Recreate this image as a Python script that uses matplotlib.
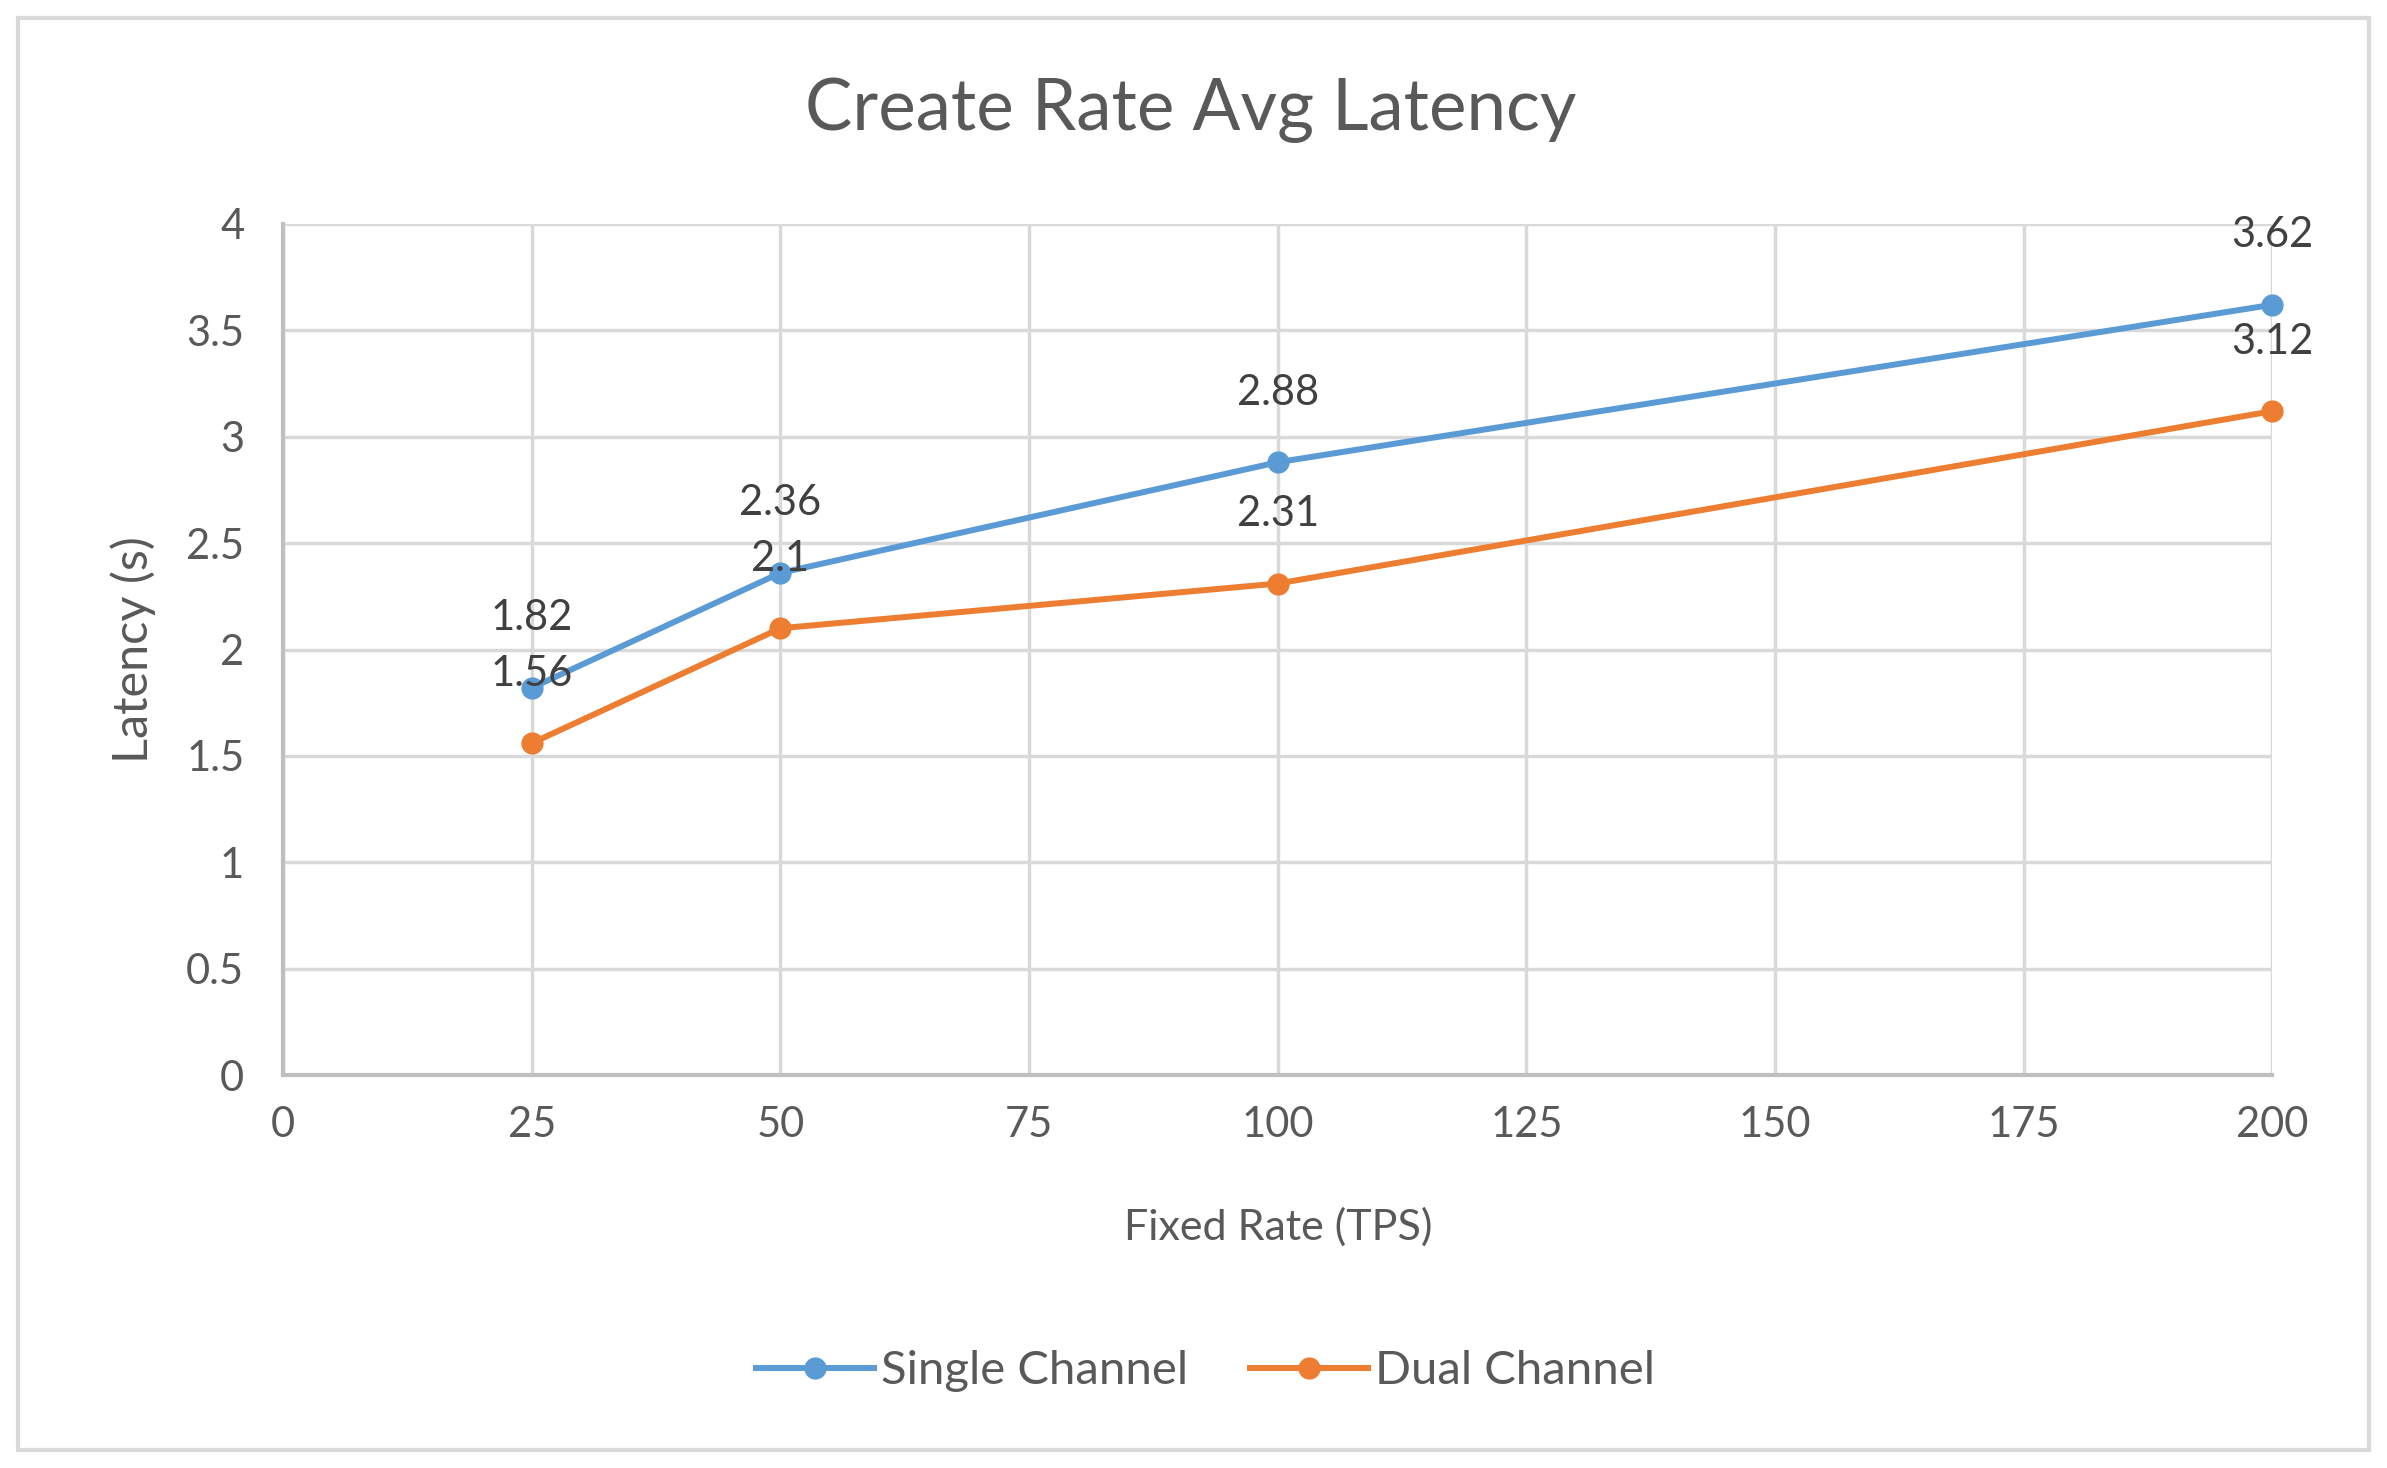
import matplotlib.pyplot as plt
from matplotlib.patches import Rectangle

# data
rates = [25, 50, 100, 200]
single_channel = [1.82, 2.36, 2.88, 3.62]
dual_channel = [1.56, 2.1, 2.31, 3.12]
x_ticks = [0, 25, 50, 75, 100, 125, 150, 175, 200]
y_ticks = [0, 0.5, 1, 1.5, 2, 2.5, 3, 3.5, 4]

plt.rcParams['font.family'] = ['Lato', 'DejaVu Sans']
text_color = '#595959'

fig = plt.figure(figsize=(23.87, 14.68), dpi=100)
ax = fig.add_axes([0.1186, 0.2676, 0.952 - 0.1186, 0.8475 - 0.2676])

# chart border
fig.patches.append(Rectangle((0.0077, 0.012), 0.9846, 0.976, transform=fig.transFigure,
                             fill=False, edgecolor='#d9d9d9', linewidth=3))

ax.plot(rates, single_channel, color='#5b9bd5', linewidth=4.3, marker='o', markersize=15,
        label='Single Channel', zorder=3, clip_on=False)
ax.plot(rates, dual_channel, color='#ed7d31', linewidth=4.3, marker='o', markersize=15,
        label='Dual Channel', zorder=3, clip_on=False)

for x, y in zip(rates, single_channel):
    ax.annotate(f'{y:g}', (x, y), xytext=(0, 50), textcoords='offset points',
                ha='center', va='center', fontsize=30, color='#404040')
for x, y in zip(rates, dual_channel):
    ax.annotate(f'{y:g}', (x, y), xytext=(0, 50), textcoords='offset points',
                ha='center', va='center', fontsize=30, color='#404040')

ax.set_xlim(0, 200)
ax.set_ylim(0, 4)
ax.set_xticks(x_ticks)
ax.set_yticks(y_ticks)
ax.set_xticklabels([f'{t:g}' for t in x_ticks])
ax.set_yticklabels([f'{t:g}' for t in y_ticks])
ax.tick_params(length=0, labelsize=30, labelcolor=text_color, pad=22)
ax.tick_params(axis='y', pad=28)

ax.grid(True, color='#d9d9d9', linewidth=2.5)
ax.set_axisbelow(True)
for side in ['top', 'right']:
    ax.spines[side].set_visible(False)
for side in ['left', 'bottom']:
    ax.spines[side].set_color('#bfbfbf')
    ax.spines[side].set_linewidth(3)

fig.suptitle('Create Rate Avg Latency', x=0.499, y=0.925, va='center',
             fontsize=51, color=text_color)
ax.set_xlabel('Fixed Rate (TPS)', fontsize=31, color=text_color, labelpad=46)
ax.set_ylabel('Latency (s)', fontsize=35, color=text_color, labelpad=22)

fig.legend(loc='center', bbox_to_anchor=(0.505, 0.066), ncol=2, frameon=False,
           fontsize=34, labelcolor=text_color, handlelength=2.5, handletextpad=0.15,
           columnspacing=1.3)

fig.savefig('out.png', dpi=100)
